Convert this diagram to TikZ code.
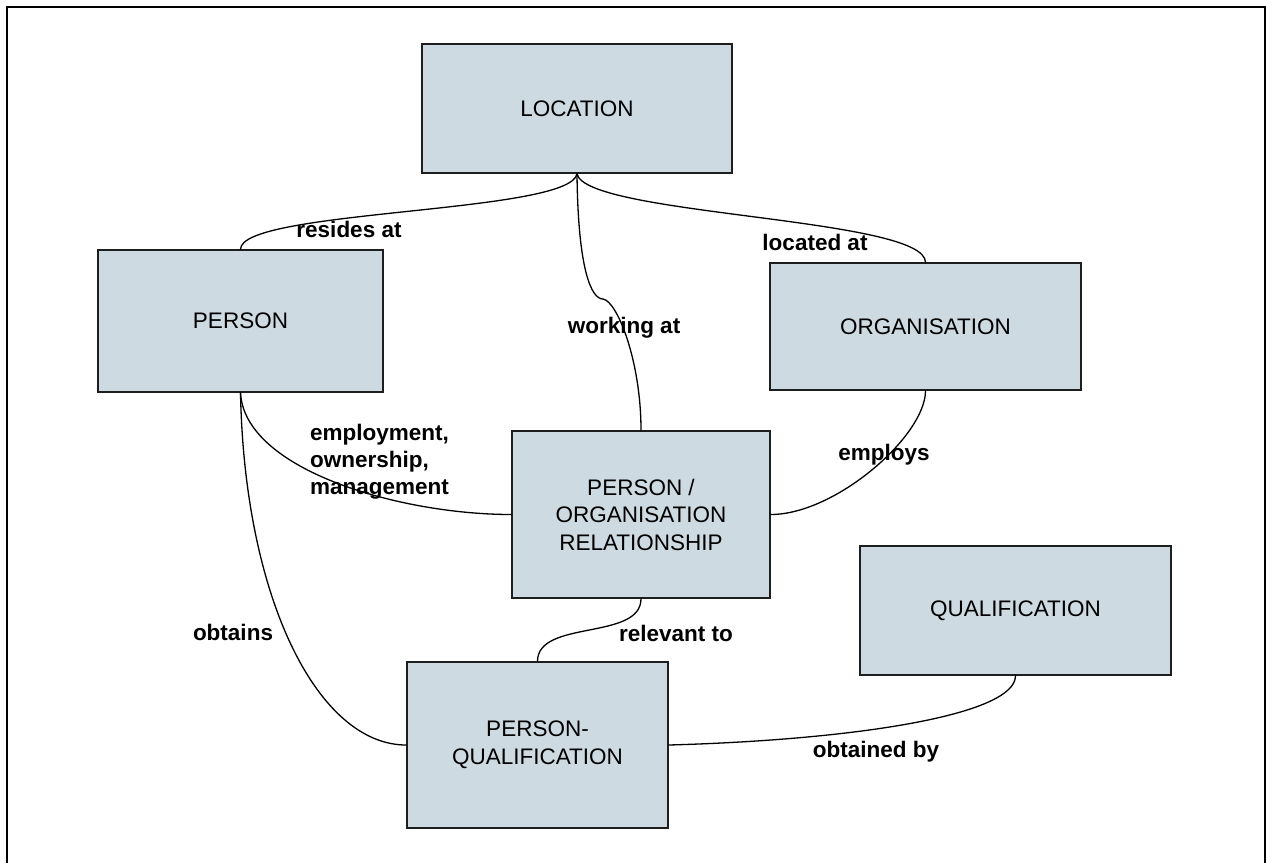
\documentclass[tikz,border=0pt]{standalone}
\usepackage{fontspec}
\setmainfont{Liberation Sans}
\definecolor{boxfill}{RGB}{206,218,226}
\definecolor{boxedge}{RGB}{30,30,30}
\begin{document}
\begin{tikzpicture}[x=1pt,y=-1pt,
  entity/.style={draw=boxedge, fill=boxfill, line width=1.4pt, align=center,
    inner sep=0pt, font=\fontsize{22.5}{27.5}\selectfont},
  rel/.style={font=\bfseries\fontsize{22.5}{27}\selectfont, inner sep=0pt, anchor=base},
  link/.style={line width=1.3pt, line cap=round}]
\useasboundingbox (0,0) rectangle (1266,863);

% page frame, open at the bottom
\coordinate (fbl) at (7,863);
\coordinate (ftl) at (7,7);
\coordinate (ftr) at (1265,7);
\coordinate (fbr) at (1265,863);
\draw[line width=2pt] (fbl) -- (ftl) -- (ftr) -- (fbr);

% entities
\node[entity, minimum width=310pt, minimum height=129pt] (loc)  at (577,108.5)  {LOCATION};
\node[entity, minimum width=285pt, minimum height=142pt] (person) at (240.5,321) {PERSON};
\node[entity, minimum width=311pt, minimum height=127pt] (org)  at (925.5,326.5) {ORGANISATION};
\node[entity, minimum width=258pt, minimum height=167pt] (porg) at (641,514.5)  {PERSON /\\ORGANISATION\\RELATIONSHIP};
\node[entity, minimum width=311pt, minimum height=129pt] (qual) at (1015.5,610.5) {QUALIFICATION};
\node[entity, minimum width=261pt, minimum height=166pt] (pq)   at (537.5,745)  {PERSON-\\QUALIFICATION};

% relationships
\coordinate (wbend) at (603,299);
\draw[link] (loc.south) .. controls +(-6,40) and +(0,-40) .. (person.north);
\draw[link] (loc.south) .. controls +(8,42) and +(0,-45) .. (org.north);
\draw[link] (loc.south) .. controls +(1,95) and +(-12,0) .. (wbend)
            .. controls +(14,2) and +(0,-70) .. (porg.north);
\draw[link] (person.south) .. controls +(4,77) and +(-112,0) .. (porg.west);
\draw[link] (org.south) .. controls +(0,45) and +(65,0) .. (porg.east);
\draw[link] (person.south) .. controls +(4,207) and +(-88,0) .. (pq.west);
\draw[link] (porg.south) .. controls +(0,42) and +(0,-42) .. (pq.north);
\draw[link] (qual.south) .. controls +(0,40) and +(182,-5) .. (pq.east);

% relationship labels
\node[rel] (lres) at (349,237) {resides at};
\node[rel] (lloc) at (815,250) {located at};
\node[rel] (lwork) at (624,333) {working at};
\node[rel, anchor=base west, align=left] (lemp) at (310,494) {employment,\\ownership,\\management};
\node[rel] (lempl) at (884,460) {employs};
\node[rel] (lobt) at (233,640) {obtains};
\node[rel] (lrel) at (676,641) {relevant to};
\node[rel] (lobtby) at (876,757) {obtained by};
\end{tikzpicture}
\end{document}
